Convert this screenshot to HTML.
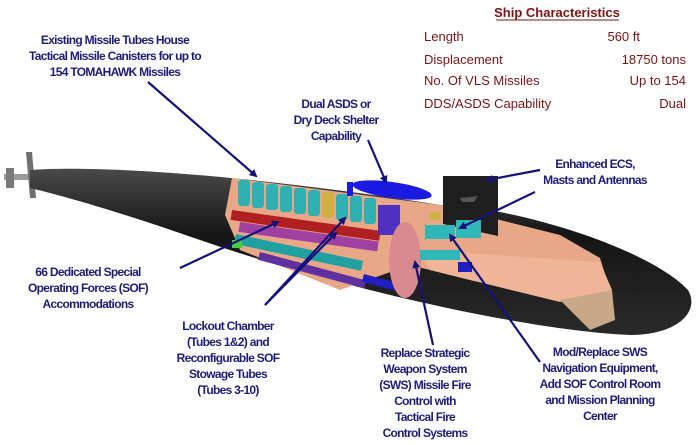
<!DOCTYPE html>
<html><head><meta charset="utf-8"><style>
html,body{margin:0;padding:0;background:#fff;}
svg{display:block;}
text{font-family:"Liberation Sans",Arial,sans-serif;}
.l{fill:#1c1c7a;font-size:12px;font-weight:bold;letter-spacing:-0.7px;}
.r{fill:#7a1414;font-size:13px;}
</style></head><body>
<svg width="700" height="445" viewBox="0 0 700 445" xmlns="http://www.w3.org/2000/svg">
<defs>
<marker id="a" markerWidth="8" markerHeight="8" refX="6" refY="4" orient="auto" markerUnits="userSpaceOnUse"><path d="M0,0 L8,4 L0,8 z" fill="#12127a"/></marker>
<linearGradient id="h" x1="0" y1="0" x2="0" y2="1"><stop offset="0" stop-color="#4a4a4a"/><stop offset="0.4" stop-color="#151515"/><stop offset="1" stop-color="#2a2a2a"/></linearGradient>
</defs>
<rect x="4" y="174" width="30" height="6" fill="#9a9a9a"/>
<polygon points="26,152 32,152 36,198 30,198" fill="#707070"/>
<rect x="6" y="168" width="8" height="20" fill="#7a7a7a"/>
<path d="M30,170 C100,165 250,175 440,205 L500,212 C580,228 660,260 688,290 C700,310 680,335 630,335 C520,330 330,285 200,240 C120,212 60,195 30,188 Z" fill="url(#h)"/>
<path d="M232,178 L440,205 L560,235 L600,258 L610,290 L560,300 L470,280 L410,265 L340,290 L240,250 L225,215 Z" fill="#e8a888"/>
<path d="M420,250 L600,262 L612,290 L560,302 L430,270 Z" fill="#f0b496"/>
<path d="M560,300 L612,290 L615,320 L590,330 Z" fill="#c8a888"/>
<g fill="#30b0b0">
<rect x="238" y="180" width="12" height="26" rx="3"/><rect x="252" y="182" width="12" height="26" rx="3"/><rect x="266" y="184" width="12" height="26" rx="3"/><rect x="280" y="186" width="12" height="26" rx="3"/><rect x="294" y="188" width="12" height="26" rx="3"/><rect x="308" y="190" width="12" height="26" rx="3"/><rect x="336" y="194" width="12" height="26" rx="3"/><rect x="350" y="196" width="12" height="26" rx="3"/><rect x="364" y="198" width="12" height="26" rx="3"/>
</g>
<rect x="322" y="192" width="12" height="26" rx="3" fill="#d0b040"/>
<rect x="232" y="210" width="150" height="10" fill="#b02020" transform="rotate(8 232 210)"/>
<rect x="240" y="222" width="140" height="10" fill="#a040a0" transform="rotate(8 240 222)"/>
<rect x="236" y="234" width="130" height="10" fill="#20a0a0" transform="rotate(12 236 234)"/>
<rect x="260" y="252" width="110" height="8" fill="#6030a0" transform="rotate(15 260 252)"/>
<rect x="364" y="274" width="50" height="8" fill="#2020c0" transform="rotate(15 364 274)"/>
<rect x="232" y="240" width="10" height="8" fill="#40d040"/>
<ellipse cx="392" cy="190" rx="40" ry="8" fill="#1a1ae0" transform="rotate(8 392 190)"/>
<rect x="347" y="182" width="6" height="14" fill="#1a1ae0"/>
<rect x="378" y="205" width="22" height="30" fill="#5030c0"/>
<polygon points="443,176 498,176 498,236 443,224" fill="#1e1e1e"/>
<polygon points="460,198 478,196 474,202 462,202" fill="#555"/>
<ellipse cx="405" cy="260" rx="16" ry="38" fill="#d88a8e"/>
<g fill="#30b8b8"><rect x="425" y="225" width="30" height="14"/><rect x="456" y="220" width="25" height="18"/><rect x="420" y="250" width="40" height="10"/></g>
<rect x="458" y="262" width="14" height="10" fill="#2020c0"/>
<rect x="430" y="212" width="10" height="8" fill="#d0b040"/>
<g stroke="#12127a" stroke-width="2.2" fill="none" marker-end="url(#a)">
<line x1="148" y1="82" x2="256" y2="176"/>
<line x1="368" y1="140" x2="386" y2="182"/>
<line x1="540" y1="170" x2="487" y2="180"/>
<line x1="535" y1="192" x2="460" y2="228"/>
<line x1="180" y1="268" x2="278" y2="222"/>
<line x1="265" y1="305" x2="345" y2="218"/>
<line x1="265" y1="305" x2="336" y2="233"/>
<line x1="433" y1="345" x2="415" y2="262"/>
<line x1="540" y1="362" x2="450" y2="235"/>
</g>
<g class="l" text-anchor="middle">
<text x="115" y="44">Existing Missile Tubes House</text>
<text x="115" y="60">Tactical Missile Canisters for up to</text>
<text x="115" y="76">154 TOMAHAWK Missiles</text>
<text x="336" y="108">Dual ASDS or</text>
<text x="336" y="124">Dry Deck Shelter</text>
<text x="336" y="140">Capability</text>
<text x="595" y="168">Enhanced ECS,</text>
<text x="595" y="184">Masts and Antennas</text>
<text x="88" y="276">66 Dedicated Special</text>
<text x="88" y="292">Operating Forces (SOF)</text>
<text x="88" y="308">Accommodations</text>
<text x="228" y="330">Lockout Chamber</text>
<text x="228" y="346">(Tubes 1&amp;2) and</text>
<text x="228" y="362">Reconfigurable SOF</text>
<text x="228" y="378">Stowage Tubes</text>
<text x="228" y="394">(Tubes 3-10)</text>
<text x="425" y="357">Replace Strategic</text>
<text x="425" y="373">Weapon System</text>
<text x="425" y="389">(SWS) Missile Fire</text>
<text x="425" y="405">Control with</text>
<text x="425" y="421">Tactical Fire</text>
<text x="425" y="437">Control Systems</text>
<text x="600" y="356">Mod/Replace SWS</text>
<text x="600" y="372">Navigation Equipment,</text>
<text x="600" y="388">Add SOF Control Room</text>
<text x="600" y="404">and Mission Planning</text>
<text x="600" y="420">Center</text>
</g>
<g class="r">
<text x="557" y="17" text-anchor="middle" font-weight="bold">Ship Characteristics</text>
<line x1="496" y1="20" x2="619" y2="20" stroke="#7a1414" stroke-width="1"/>
<text x="424" y="41">Length</text><text x="640" y="41" text-anchor="end">560 ft</text>
<text x="424" y="64">Displacement</text><text x="686" y="64" text-anchor="end">18750 tons</text>
<text x="424" y="85">No. Of VLS Missiles</text><text x="686" y="85" text-anchor="end">Up to 154</text>
<text x="424" y="108">DDS/ASDS Capability</text><text x="686" y="108" text-anchor="end">Dual</text>
</g>
</svg>
</body></html>
